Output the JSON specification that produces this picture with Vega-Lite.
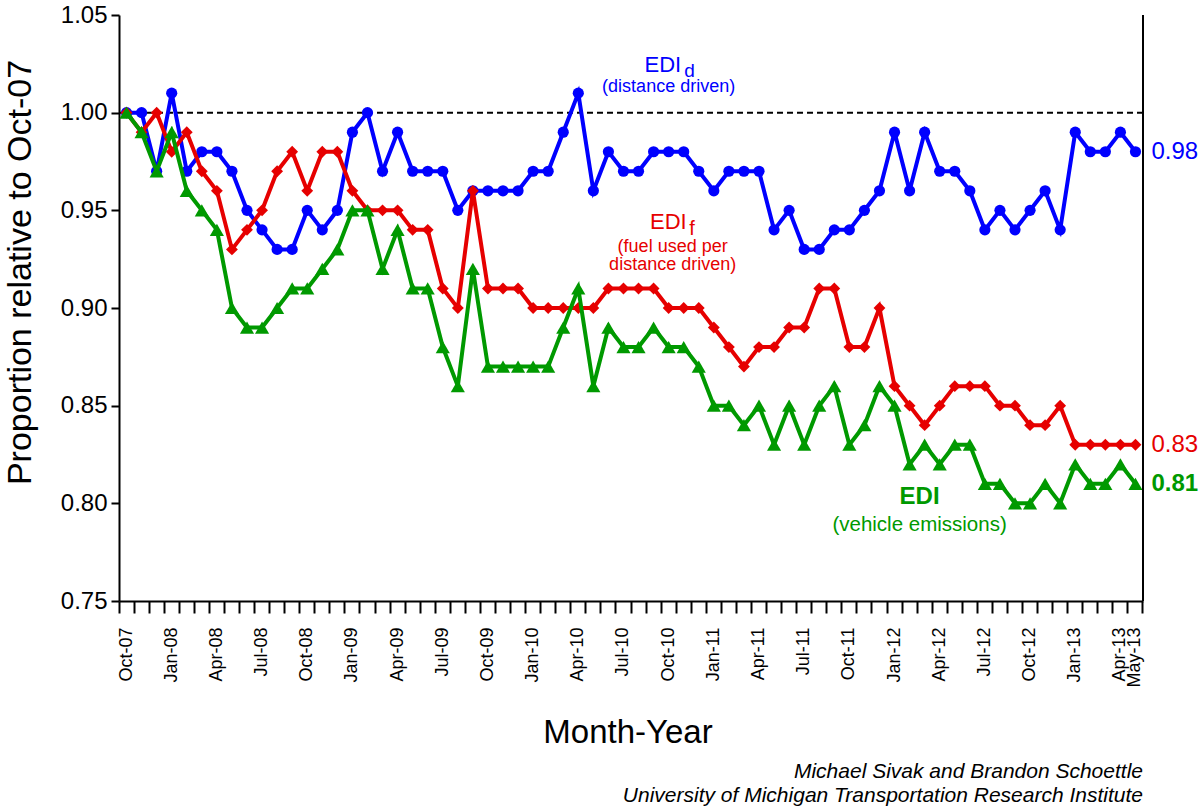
{
  "$schema": "https://vega.github.io/schema/vega-lite/v6.json",
  "width": 1024,
  "height": 586,
  "autosize": "none",
  "padding": {"left": 119, "top": 15, "right": 57, "bottom": 211},
  "background": "white",
  "config": {
    "font": "Liberation Sans",
    "view": {"stroke": null},
    "axis": {"domainColor": "black", "tickColor": "black", "labelColor": "black", "titleColor": "black", "grid": false, "domainWidth": 2, "tickWidth": 2, "titleFontWeight": "normal"}
  },
  "title": {
    "text": ["Michael Sivak and Brandon Schoettle", "University of Michigan Transportation Research Institute"],
    "orient": "bottom", "anchor": "end", "frame": "group", "fontStyle": "italic", "fontWeight": "normal", "fontSize": 21, "color": "black", "lineHeight": 23.5, "offset": 12
  },
  "data": {"values": [
    {"m": "Oct-07", "d": 1.00, "f": 1.00, "e": 1.00},
    {"m": "Nov-07", "d": 1.00, "f": 0.99, "e": 0.99},
    {"m": "Dec-07", "d": 0.97, "f": 1.00, "e": 0.97},
    {"m": "Jan-08", "d": 1.01, "f": 0.98, "e": 0.99},
    {"m": "Feb-08", "d": 0.97, "f": 0.99, "e": 0.96},
    {"m": "Mar-08", "d": 0.98, "f": 0.97, "e": 0.95},
    {"m": "Apr-08", "d": 0.98, "f": 0.96, "e": 0.94},
    {"m": "May-08", "d": 0.97, "f": 0.93, "e": 0.90},
    {"m": "Jun-08", "d": 0.95, "f": 0.94, "e": 0.89},
    {"m": "Jul-08", "d": 0.94, "f": 0.95, "e": 0.89},
    {"m": "Aug-08", "d": 0.93, "f": 0.97, "e": 0.90},
    {"m": "Sep-08", "d": 0.93, "f": 0.98, "e": 0.91},
    {"m": "Oct-08", "d": 0.95, "f": 0.96, "e": 0.91},
    {"m": "Nov-08", "d": 0.94, "f": 0.98, "e": 0.92},
    {"m": "Dec-08", "d": 0.95, "f": 0.98, "e": 0.93},
    {"m": "Jan-09", "d": 0.99, "f": 0.96, "e": 0.95},
    {"m": "Feb-09", "d": 1.00, "f": 0.95, "e": 0.95},
    {"m": "Mar-09", "d": 0.97, "f": 0.95, "e": 0.92},
    {"m": "Apr-09", "d": 0.99, "f": 0.95, "e": 0.94},
    {"m": "May-09", "d": 0.97, "f": 0.94, "e": 0.91},
    {"m": "Jun-09", "d": 0.97, "f": 0.94, "e": 0.91},
    {"m": "Jul-09", "d": 0.97, "f": 0.91, "e": 0.88},
    {"m": "Aug-09", "d": 0.95, "f": 0.90, "e": 0.86},
    {"m": "Sep-09", "d": 0.96, "f": 0.96, "e": 0.92},
    {"m": "Oct-09", "d": 0.96, "f": 0.91, "e": 0.87},
    {"m": "Nov-09", "d": 0.96, "f": 0.91, "e": 0.87},
    {"m": "Dec-09", "d": 0.96, "f": 0.91, "e": 0.87},
    {"m": "Jan-10", "d": 0.97, "f": 0.90, "e": 0.87},
    {"m": "Feb-10", "d": 0.97, "f": 0.90, "e": 0.87},
    {"m": "Mar-10", "d": 0.99, "f": 0.90, "e": 0.89},
    {"m": "Apr-10", "d": 1.01, "f": 0.90, "e": 0.91},
    {"m": "May-10", "d": 0.96, "f": 0.90, "e": 0.86},
    {"m": "Jun-10", "d": 0.98, "f": 0.91, "e": 0.89},
    {"m": "Jul-10", "d": 0.97, "f": 0.91, "e": 0.88},
    {"m": "Aug-10", "d": 0.97, "f": 0.91, "e": 0.88},
    {"m": "Sep-10", "d": 0.98, "f": 0.91, "e": 0.89},
    {"m": "Oct-10", "d": 0.98, "f": 0.90, "e": 0.88},
    {"m": "Nov-10", "d": 0.98, "f": 0.90, "e": 0.88},
    {"m": "Dec-10", "d": 0.97, "f": 0.90, "e": 0.87},
    {"m": "Jan-11", "d": 0.96, "f": 0.89, "e": 0.85},
    {"m": "Feb-11", "d": 0.97, "f": 0.88, "e": 0.85},
    {"m": "Mar-11", "d": 0.97, "f": 0.87, "e": 0.84},
    {"m": "Apr-11", "d": 0.97, "f": 0.88, "e": 0.85},
    {"m": "May-11", "d": 0.94, "f": 0.88, "e": 0.83},
    {"m": "Jun-11", "d": 0.95, "f": 0.89, "e": 0.85},
    {"m": "Jul-11", "d": 0.93, "f": 0.89, "e": 0.83},
    {"m": "Aug-11", "d": 0.93, "f": 0.91, "e": 0.85},
    {"m": "Sep-11", "d": 0.94, "f": 0.91, "e": 0.86},
    {"m": "Oct-11", "d": 0.94, "f": 0.88, "e": 0.83},
    {"m": "Nov-11", "d": 0.95, "f": 0.88, "e": 0.84},
    {"m": "Dec-11", "d": 0.96, "f": 0.90, "e": 0.86},
    {"m": "Jan-12", "d": 0.99, "f": 0.86, "e": 0.85},
    {"m": "Feb-12", "d": 0.96, "f": 0.85, "e": 0.82},
    {"m": "Mar-12", "d": 0.99, "f": 0.84, "e": 0.83},
    {"m": "Apr-12", "d": 0.97, "f": 0.85, "e": 0.82},
    {"m": "May-12", "d": 0.97, "f": 0.86, "e": 0.83},
    {"m": "Jun-12", "d": 0.96, "f": 0.86, "e": 0.83},
    {"m": "Jul-12", "d": 0.94, "f": 0.86, "e": 0.81},
    {"m": "Aug-12", "d": 0.95, "f": 0.85, "e": 0.81},
    {"m": "Sep-12", "d": 0.94, "f": 0.85, "e": 0.80},
    {"m": "Oct-12", "d": 0.95, "f": 0.84, "e": 0.80},
    {"m": "Nov-12", "d": 0.96, "f": 0.84, "e": 0.81},
    {"m": "Dec-12", "d": 0.94, "f": 0.85, "e": 0.80},
    {"m": "Jan-13", "d": 0.99, "f": 0.83, "e": 0.82},
    {"m": "Feb-13", "d": 0.98, "f": 0.83, "e": 0.81},
    {"m": "Mar-13", "d": 0.98, "f": 0.83, "e": 0.81},
    {"m": "Apr-13", "d": 0.99, "f": 0.83, "e": 0.82},
    {"m": "May-13", "d": 0.98, "f": 0.83, "e": 0.81}
  ]},
  "resolve": {"axis": {"x": "independent", "y": "independent"}},
  "layer": [
    {
      "data": {"values": [{}]},
      "mark": {"type": "rule", "color": "black", "strokeWidth": 2, "strokeDash": [6, 4]},
      "encoding": {"y": {"datum": 1, "type": "quantitative", "axis": null}}
    },
    {
      "mark": {"type": "line", "color": "#0000FF", "strokeWidth": 4, "point": {"filled": true, "shape": "circle", "size": 125, "color": "#0000FF", "opacity": 1}},
      "encoding": {
        "x": {"field": "m", "type": "nominal",
          "scale": {"type": "band", "paddingInner": 0, "paddingOuter": 0, "domain": ["Oct-07","Nov-07","Dec-07","Jan-08","Feb-08","Mar-08","Apr-08","May-08","Jun-08","Jul-08","Aug-08","Sep-08","Oct-08","Nov-08","Dec-08","Jan-09","Feb-09","Mar-09","Apr-09","May-09","Jun-09","Jul-09","Aug-09","Sep-09","Oct-09","Nov-09","Dec-09","Jan-10","Feb-10","Mar-10","Apr-10","May-10","Jun-10","Jul-10","Aug-10","Sep-10","Oct-10","Nov-10","Dec-10","Jan-11","Feb-11","Mar-11","Apr-11","May-11","Jun-11","Jul-11","Aug-11","Sep-11","Oct-11","Nov-11","Dec-11","Jan-12","Feb-12","Mar-12","Apr-12","May-12","Jun-12","Jul-12","Aug-12","Sep-12","Oct-12","Nov-12","Dec-12","Jan-13","Feb-13","Mar-13","Apr-13","May-13"]},
          "axis": {"orient": "bottom", "bandPosition": 0, "labels": false, "ticks": true, "tickSize": 12, "domain": true, "title": null}},
        "y": {"field": "d", "type": "quantitative",
          "scale": {"domain": [0.75, 1.05], "nice": false, "zero": false},
          "axis": {"orient": "left", "values": [0.75, 0.8, 0.85, 0.9, 0.95, 1.0, 1.05], "format": ".2f", "labelFontSize": 24, "tickSize": 8, "labelPadding": 4,
            "title": "Proportion relative to Oct-07", "titleFontSize": 34, "titleX": -99, "titleY": 257, "titleAngle": -90, "titleAlign": "center", "titleBaseline": "middle"}}
      }
    },
    {
      "mark": {"type": "line", "color": "#E60000", "strokeWidth": 4, "point": {"filled": true, "shape": "diamond", "size": 140, "color": "#E60000", "opacity": 1}},
      "encoding": {
        "x": {"field": "m", "type": "nominal", "axis": null},
        "y": {"field": "f", "type": "quantitative", "axis": null}
      }
    },
    {
      "mark": {"type": "line", "color": "#009900", "strokeWidth": 4, "point": {"filled": true, "shape": "triangle-up", "size": 200, "color": "#009900", "opacity": 1}},
      "encoding": {
        "x": {"field": "m", "type": "nominal", "axis": null},
        "y": {"field": "e", "type": "quantitative", "axis": null}
      }
    },
    {
      "data": {"values": [{}]},
      "mark": {"type": "rule", "color": "black", "strokeWidth": 2},
      "encoding": {
        "x": {"datum": "May-13", "type": "nominal", "bandPosition": 1,
          "axis": {"orient": "bottom", "values": ["May-13"], "bandPosition": 1, "labels": false, "domain": false, "ticks": true, "tickSize": 12, "title": null}},
        "y": {"datum": 0.75, "type": "quantitative", "axis": null},
        "y2": {"datum": 1.05}
      }
    },
    {
      "transform": [{"filter": "datum.m === 'May-13'"}],
      "mark": {"type": "text", "align": "left", "baseline": "middle", "dx": 16, "fontSize": 24, "color": "#0000FF"},
      "encoding": {
        "x": {"field": "m", "type": "nominal",
          "axis": {"orient": "bottom", "values": ["Oct-07","Jan-08","Apr-08","Jul-08","Oct-08","Jan-09","Apr-09","Jul-09","Oct-09","Jan-10","Apr-10","Jul-10","Oct-10","Jan-11","Apr-11","Jul-11","Oct-11","Jan-12","Apr-12","Jul-12","Oct-12","Jan-13","Apr-13","May-13"],
            "bandPosition": 0.5, "ticks": false, "domain": false, "labelAngle": -90, "labelAlign": "right", "labelBaseline": "middle", "labelFontSize": 18, "labelPadding": 26, "labelOverlap": false,
            "title": "Month-Year", "titleFontSize": 33, "titleX": 508.5, "titleY": 141, "titleBaseline": "alphabetic", "titleAlign": "center", "titleAngle": 0}},
        "y": {"field": "d", "type": "quantitative", "axis": null},
        "text": {"field": "d", "type": "quantitative", "format": ".2f"}
      }
    },
    {
      "transform": [{"filter": "datum.m === 'May-13'"}],
      "mark": {"type": "text", "align": "left", "baseline": "middle", "dx": 16, "fontSize": 24, "color": "#E60000"},
      "encoding": {
        "x": {"field": "m", "type": "nominal", "axis": null},
        "y": {"field": "f", "type": "quantitative", "axis": null},
        "text": {"field": "f", "type": "quantitative", "format": ".2f"}
      }
    },
    {
      "transform": [{"filter": "datum.m === 'May-13'"}],
      "mark": {"type": "text", "align": "left", "baseline": "middle", "dx": 16, "fontSize": 24, "fontWeight": "bold", "color": "#009900"},
      "encoding": {
        "x": {"field": "m", "type": "nominal", "axis": null},
        "y": {"field": "e", "type": "quantitative", "axis": null},
        "text": {"field": "e", "type": "quantitative", "format": ".2f"}
      }
    },
    {
      "data": {"values": [{}]},
      "mark": {"type": "text", "text": "EDI", "align": "right", "baseline": "alphabetic", "dx": 12.5, "dy": -1.9, "fontSize": 22, "color": "#0000FF"},
      "encoding": {"x": {"datum": "Oct-10", "type": "nominal", "axis": null}, "y": {"datum": 1.02, "type": "quantitative", "axis": null}}
    },
    {
      "data": {"values": [{}]},
      "mark": {"type": "text", "text": "d", "align": "left", "baseline": "alphabetic", "dx": 15.5, "dy": 3.7, "fontSize": 19, "color": "#0000FF"},
      "encoding": {"x": {"datum": "Oct-10", "type": "nominal", "axis": null}, "y": {"datum": 1.02, "type": "quantitative", "axis": null}}
    },
    {
      "data": {"values": [{}]},
      "mark": {"type": "text", "text": "(distance driven)", "align": "center", "baseline": "alphabetic", "dx": 0, "dy": -1.4, "fontSize": 18, "color": "#0000FF"},
      "encoding": {"x": {"datum": "Oct-10", "type": "nominal", "axis": null}, "y": {"datum": 1.01, "type": "quantitative", "axis": null}}
    },
    {
      "data": {"values": [{}]},
      "mark": {"type": "text", "text": "EDI", "align": "right", "baseline": "alphabetic", "dx": 18, "dy": -1, "fontSize": 22, "color": "#E60000"},
      "encoding": {"x": {"datum": "Oct-10", "type": "nominal", "axis": null}, "y": {"datum": 0.94, "type": "quantitative", "axis": null}}
    },
    {
      "data": {"values": [{}]},
      "mark": {"type": "text", "text": "f", "align": "left", "baseline": "alphabetic", "dx": 20.5, "dy": 5, "fontSize": 20, "color": "#E60000"},
      "encoding": {"x": {"datum": "Oct-10", "type": "nominal", "axis": null}, "y": {"datum": 0.94, "type": "quantitative", "axis": null}}
    },
    {
      "data": {"values": [{}]},
      "mark": {"type": "text", "text": ["(fuel used per", "distance driven)"], "align": "center", "baseline": "alphabetic", "lineHeight": 18.3, "dx": 4, "dy": 2.3, "fontSize": 18, "color": "#E60000"},
      "encoding": {"x": {"datum": "Oct-10", "type": "nominal", "axis": null}, "y": {"datum": 0.93, "type": "quantitative", "axis": null}}
    },
    {
      "data": {"values": [{}]},
      "mark": {"type": "text", "text": "EDI", "align": "center", "baseline": "alphabetic", "dx": 10, "dy": 0.7, "fontSize": 24, "fontWeight": "bold", "color": "#009900"},
      "encoding": {"x": {"datum": "Feb-12", "type": "nominal", "axis": null}, "y": {"datum": 0.8, "type": "quantitative", "axis": null}}
    },
    {
      "data": {"values": [{}]},
      "mark": {"type": "text", "text": "(vehicle emissions)", "align": "center", "baseline": "alphabetic", "dx": 10, "dy": 7.8, "fontSize": 20.5, "color": "#009900"},
      "encoding": {"x": {"datum": "Feb-12", "type": "nominal", "axis": null}, "y": {"datum": 0.79, "type": "quantitative", "axis": null}}
    }
  ]
}
